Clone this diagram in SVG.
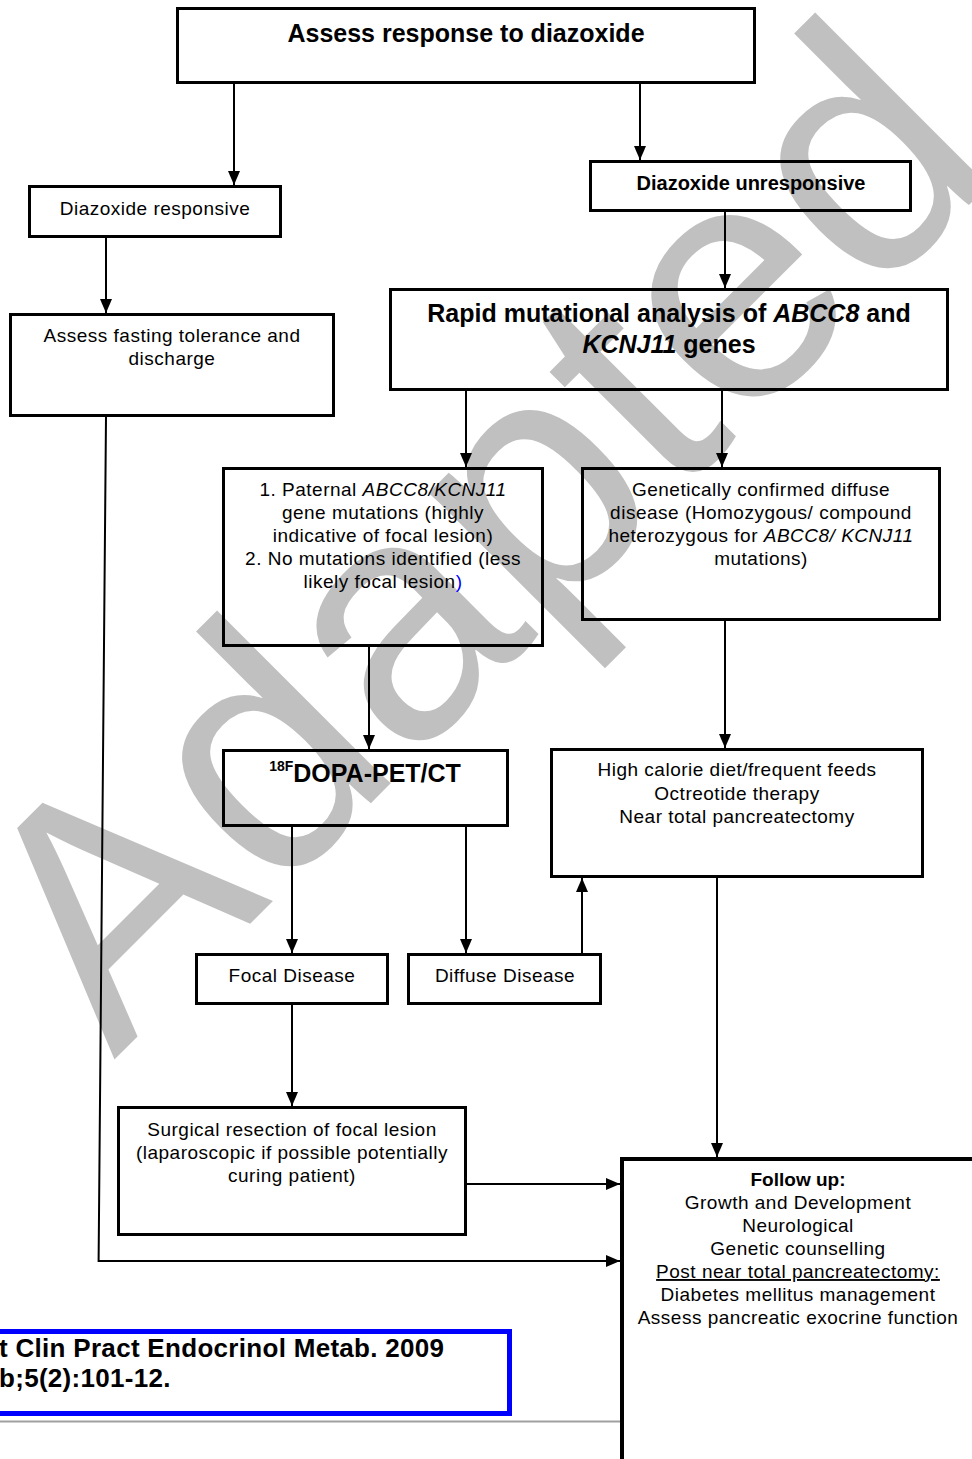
<svg xmlns="http://www.w3.org/2000/svg" width="972" height="1459" viewBox="0 0 972 1459">
<defs>
<style>
.box{fill:none;stroke:#000;stroke-width:3}
.t{font-family:"Liberation Sans",Arial,sans-serif;font-size:19px;letter-spacing:0.5px;fill:#000;text-anchor:middle}
.b{font-family:"Liberation Sans",Arial,sans-serif;font-weight:bold;fill:#000;text-anchor:middle}
.c{fill:none;stroke:#000;stroke-width:2}
.wm{font-family:"Liberation Sans",Arial,sans-serif;font-size:338px;fill:#c0c0c0}
</style>
<marker id="ah" viewBox="0 0 14 12" refX="14" refY="6" markerWidth="14" markerHeight="12" markerUnits="userSpaceOnUse" orient="auto">
<path d="M0,0 L14,6 L0,12 z" fill="#000"/>
</marker>
</defs>
<rect width="972" height="1459" fill="#fff"/>
<g id="watermark">
<text class="wm" transform="translate(114,1060) rotate(-45)">Adapted</text>
</g>
<g id="connectors">
<path class="c" d="M234,84 V185" marker-end="url(#ah)"/>
<path class="c" d="M640,84 V160" marker-end="url(#ah)"/>
<path class="c" d="M106,238 V313" marker-end="url(#ah)"/>
<path class="c" d="M725,212 V288" marker-end="url(#ah)"/>
<path class="c" d="M466,391 V467" marker-end="url(#ah)"/>
<path class="c" d="M722,391 V467" marker-end="url(#ah)"/>
<path class="c" d="M369,647 V749" marker-end="url(#ah)"/>
<path class="c" d="M725,621 V748" marker-end="url(#ah)"/>
<path class="c" d="M292,827 V953" marker-end="url(#ah)"/>
<path class="c" d="M466,827 V953" marker-end="url(#ah)"/>
<path class="c" d="M582,953 V878" marker-end="url(#ah)"/>
<path class="c" d="M292,1005 V1106" marker-end="url(#ah)"/>
<path class="c" d="M717,878 V1157" marker-end="url(#ah)"/>
<path class="c" d="M467,1184 H620" marker-end="url(#ah)"/>
<path class="c" d="M106,417 L98.6,1261 H620" marker-end="url(#ah)"/>
</g>
<g id="n-assess">
<rect class="box" x="177.5" y="8.5" width="577" height="74"/>
<text class="b" x="466" y="42" font-size="25">Assess response to diazoxide</text>
</g>
<g id="n-responsive">
<rect class="box" x="29.5" y="186.5" width="251" height="50"/>
<text class="t" x="155" y="215">Diazoxide responsive</text>
</g>
<g id="n-unresponsive">
<rect class="box" x="590.5" y="161.5" width="320" height="49"/>
<text class="b" x="751" y="190" font-size="20">Diazoxide unresponsive</text>
</g>
<g id="n-fasting">
<rect class="box" x="10.5" y="314.5" width="323" height="101"/>
<text class="t" x="172" y="342">Assess fasting tolerance and</text>
<text class="t" x="172" y="365">discharge</text>
</g>
<g id="n-rapid">
<rect class="box" x="390.5" y="289.5" width="557" height="100"/>
<text class="b" x="669" y="322" font-size="25">Rapid mutational analysis of <tspan font-style="italic">ABCC8</tspan> and</text>
<text class="b" x="669" y="353" font-size="25"><tspan font-style="italic">KCNJ11</tspan> genes</text>
</g>
<g id="n-paternal">
<rect class="box" x="223.5" y="468.5" width="319" height="177"/>
<text class="t" x="383" y="496">1. Paternal <tspan font-style="italic">ABCC8/KCNJ11</tspan></text>
<text class="t" x="383" y="519">gene mutations (highly</text>
<text class="t" x="383" y="542">indicative of focal lesion)</text>
<text class="t" x="383" y="565">2. No mutations identified (less</text>
<text class="t" x="383" y="588">likely focal lesion<tspan fill="#0000ff">)</tspan></text>
</g>
<g id="n-genetic">
<rect class="box" x="582.5" y="468.5" width="357" height="151"/>
<text class="t" x="761" y="496">Genetically confirmed diffuse</text>
<text class="t" x="761" y="519">disease (Homozygous/ compound</text>
<text class="t" x="761" y="542">heterozygous for <tspan font-style="italic">ABCC8/ KCNJ11</tspan></text>
<text class="t" x="761" y="565">mutations)</text>
</g>
<g id="n-dopa">
<rect class="box" x="223.5" y="750.5" width="284" height="75"/>
<text class="b" x="365" y="782"><tspan font-size="14" dy="-11">18F</tspan><tspan font-size="25" dy="11">DOPA-PET/CT</tspan></text>
</g>
<g id="n-highcal">
<rect class="box" x="551.5" y="749.5" width="371" height="127"/>
<text class="t" x="737" y="776">High calorie diet/frequent feeds</text>
<text class="t" x="737" y="800">Octreotide therapy</text>
<text class="t" x="737" y="823">Near total pancreatectomy</text>
</g>
<g id="n-focal">
<rect class="box" x="196.5" y="954.5" width="191" height="49"/>
<text class="t" x="292" y="982">Focal Disease</text>
</g>
<g id="n-diffuse">
<rect class="box" x="408.5" y="954.5" width="192" height="49"/>
<text class="t" x="505" y="982">Diffuse Disease</text>
</g>
<g id="n-surgical">
<rect class="box" x="118.5" y="1107.5" width="347" height="127"/>
<text class="t" x="292" y="1136">Surgical resection of focal lesion</text>
<text class="t" x="292" y="1159">(laparoscopic if possible potentially</text>
<text class="t" x="292" y="1182">curing patient)</text>
</g>
<g id="n-followup">
<rect x="622" y="1159" width="400" height="400" fill="none" stroke="#000" stroke-width="4"/>
<text class="b" x="798" y="1186" font-size="19">Follow up:</text>
<text class="t" x="798" y="1209">Growth and Development</text>
<text class="t" x="798" y="1232">Neurological</text>
<text class="t" x="798" y="1255">Genetic counselling</text>
<text class="t" x="798" y="1278" text-decoration="underline">Post near total pancreatectomy:</text>
<text class="t" x="798" y="1301">Diabetes mellitus management</text>
<text class="t" x="798" y="1324">Assess pancreatic exocrine function</text>
</g>
<g id="n-citation">
<rect x="-10" y="1331.5" width="519.5" height="82" fill="none" stroke="#0000ff" stroke-width="5"/>
<text x="-1" y="1357" font-family="'Liberation Sans',Arial,sans-serif" font-weight="bold" font-size="26" letter-spacing="0.3">t Clin Pract Endocrinol Metab. 2009</text>
<text x="-1" y="1387" font-family="'Liberation Sans',Arial,sans-serif" font-weight="bold" font-size="26" letter-spacing="0.3">b;5(2):101-12.</text>
</g>
<line x1="0" y1="1421.5" x2="620" y2="1421.5" stroke="#a0a0a0" stroke-width="2"/>
</svg>
